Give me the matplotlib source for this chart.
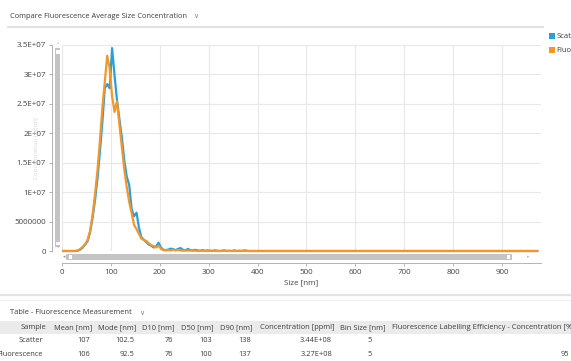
import numpy as np
import matplotlib as mlt
mlt.use('Agg')
from matplotlib import pyplot as plt
from matplotlib.patches import Rectangle
from matplotlib.lines import Line2D

plt.rcParams['font.family'] = ['Open Sans', 'DejaVu Sans']

# size distribution, 5 nm bins, concentration in millions of particles / ml
bin_size = 5.0
sizes = np.arange(2.5, 975.0, bin_size)

scatter_head = [
    0, 0, 0, 0, 0, 0, 0.05, 0.25, 0.6, 1.1,
    1.7, 3.2, 5.6, 8.6, 12.2, 16.8, 21.8, 27.6, 28.3, 27.6,
    34.4, 29.8, 25.6, 22.3, 19.2, 15.3, 12.6, 11.2, 7.1, 5.9,
    6.5, 3.9, 2.3, 1.9, 1.5, 1.1, 0.9, 0.6, 0.8, 1.4,
    0.6, 0.2, 0.15, 0.25, 0.4, 0.3, 0.15, 0.35, 0.5, 0.2,
    0.1, 0.35, 0.15, 0.1, 0.2, 0.1, 0.05, 0.15, 0.05, 0.1,
    0.05, 0, 0.1, 0.05, 0, 0.05, 0.1, 0, 0.05, 0,
    0.1, 0, 0.05, 0, 0.1, 0.05, 0, 0, 0, 0,
]
fluor_head = [
    0, 0, 0, 0, 0, 0, 0.1, 0.35, 0.7, 1.2,
    1.9, 3.4, 6.1, 9.6, 13.6, 18.6, 24.2, 28.6, 33.1, 31.0,
    26.2, 23.6, 25.4, 21.4, 17.6, 13.8, 10.8, 8.3, 6.4, 4.4,
    3.7, 2.9, 2.1, 1.9, 1.7, 1.3, 1.0, 0.8, 0.6, 0.9,
    0.4, 0.15, 0.1, 0.15, 0.1, 0.2, 0.1, 0.15, 0.1, 0.05,
    0.1, 0.05, 0.1, 0.05, 0.05, 0, 0, 0.05, 0, 0,
    0, 0.05, 0, 0, 0, 0, 0.05, 0, 0, 0,
    0, 0, 0, 0, 0, 0, 0, 0, 0, 0,
]
tail = [0.0] * (len(sizes) - len(scatter_head))
scatter = np.array(scatter_head + tail) * 1e6
fluorescence = np.array(fluor_head + tail) * 1e6

yticks = [0, 5e6, 1e7, 1.5e7, 2e7, 2.5e7, 3e7, 3.5e7]
ytick_labels = ['0', '5000000', '1E+07', '1.5E+07', '2E+07', '2.5E+07', '3E+07', '3.5E+07']
xticks = [0, 100, 200, 300, 400, 500, 600, 700, 800, 900]

# summary table
columns = ['Sample', 'Mean [nm]', 'Mode [nm]', 'D10 [nm]', 'D50 [nm]', 'D90 [nm]',
           'Concentration [ppml]', 'Bin Size [nm]',
           'Fluorescence Labelling Efficiency - Concentration [%]']
rows = [
    ['Scatter', '107', '102.5', '76', '103', '138', '3.44E+08', '5', ''],
    ['Fluorescence', '106', '92.5', '76', '100', '137', '3.27E+08', '5', '95'],
]

blue = '#2a9fd8'
orange = '#f5962a'
text_col = '#3c3c3c'
tick_col = '#444444'

W, H = 571, 361
fig = plt.figure(figsize=(W / 100, H / 100), dpi=100)


def fx(px):
    return px / W


def fy(py):
    return 1 - py / H


def box(x0, y0, x1, y1, color):
    fig.add_artist(Rectangle((fx(x0), fy(y1)), (x1 - x0) / W, (y1 - y0) / H,
                             transform=fig.transFigure, facecolor=color,
                             edgecolor='none'))


def hline(x0, x1, y, color, lw):
    fig.add_artist(Line2D([fx(x0), fx(x1)], [fy(y), fy(y)],
                          transform=fig.transFigure, color=color, lw=lw))


# header of the chart panel
fig.text(fx(10), fy(16), 'Compare Fluorescence Average Size Concentration',
         fontsize=5.4, color=text_col, va='center')
fig.text(fx(193), fy(16), '∨', fontsize=5, color='#888888', va='center',
         family='DejaVu Sans')
hline(8, 543, 26.5, '#dedede', 1.3)

ax = fig.add_axes([fx(62), fy(251), (541 - 62) / W, (251 - 44.6) / H])
ax.plot(sizes, scatter, color=blue, lw=1.6, clip_on=False, zorder=3)
ax.plot(sizes, fluorescence, color=orange, lw=1.6, clip_on=False, zorder=4)

ax.set_xlim(0, 980)
ax.set_ylim(0, 3.5e7)
ax.set_xticks(xticks)
ax.set_yticks(yticks)
ax.set_yticklabels(ytick_labels)
ax.grid(True, color='#e8e8e8', lw=0.8)
ax.set_axisbelow(True)
for side in ['top', 'right']:
    ax.spines[side].set_visible(False)
ax.spines['left'].set_position(('outward', 7.5))
ax.spines['bottom'].set_position(('outward', 8.6))
for side in ['left', 'bottom']:
    ax.spines[side].set_color('#a8a8a8')
    ax.spines[side].set_linewidth(0.6)
ax.tick_params(length=2.5, width=0.6, color='#a8a8a8', labelsize=5.8,
               labelcolor=tick_col, pad=1.5)
ax.set_xlabel('Size [nm]', fontsize=5.8, color=tick_col, labelpad=3)
fig.text(fx(37), fy(148), 'Concentration [ppml]', rotation=90, fontsize=4.5,
         color='#d6d6d6', ha='center', va='center', zorder=0)

# scroll bars
box(55, 48, 60.5, 247, '#c4c4c4')
box(56, 50.5, 59.5, 53.5, 'white')
box(56, 241.5, 59.5, 244.5, 'white')
fig.text(fx(57.7), fy(45.5), '˄', fontsize=3.5, color='#999999', ha='center',
         va='center', family='DejaVu Sans')
fig.text(fx(57.7), fy(249.5), '˅', fontsize=3.5, color='#999999', ha='center',
         va='center', family='DejaVu Sans')
box(66, 254, 512, 260, '#c4c4c4')
box(68.5, 255, 71.5, 259, 'white')
box(506.5, 255, 509.5, 259, 'white')
fig.text(fx(64), fy(257), '◂', fontsize=3.5, color='#999999', ha='center',
         va='center', family='DejaVu Sans')
fig.text(fx(528), fy(257), '▸', fontsize=3.5, color='#bbbbbb', ha='center',
         va='center', family='DejaVu Sans')

# legend, cut at the right edge
box(549, 33, 554.5, 38.5, blue)
box(549, 47, 554.5, 52.5, orange)
fig.text(fx(556.5), fy(36), 'Scatter', fontsize=5.5, color=text_col, va='center')
fig.text(fx(556.5), fy(50), 'Fluorescence', fontsize=5.5, color=text_col, va='center')

# table panel
hline(0, 571, 294.5, '#e3e3e3', 1.5)
hline(0, 571, 299.5, '#efefef', 0.8)
fig.text(fx(10), fy(313), 'Table - Fluorescence Measurement', fontsize=5.4,
         color=text_col, va='center')
fig.text(fx(139), fy(313), '∨', fontsize=5, color='#888888', va='center',
         family='DejaVu Sans')
box(0, 321, 571, 334, '#ebebeb')

head_right = [46, 92, 136, 175, 214, 253, 334, 385]
val_right = [43, 90, 134, 173, 212, 251, 332, 372, 569]
for c, name in enumerate(columns):
    if c == len(columns) - 1:
        fig.text(fx(392), fy(327.5), name, fontsize=5.4, color=text_col,
                 ha='left', va='center')
    else:
        fig.text(fx(head_right[c]), fy(327.5), name, fontsize=5.4,
                 color=text_col, ha='right', va='center')
for r, row in enumerate(rows):
    y = 341 + r * 13
    for c, val in enumerate(row):
        fig.text(fx(val_right[c]), fy(y), val, fontsize=5.4, color=text_col,
                 ha='right', va='center')

fig.savefig('out.png', dpi=100)
